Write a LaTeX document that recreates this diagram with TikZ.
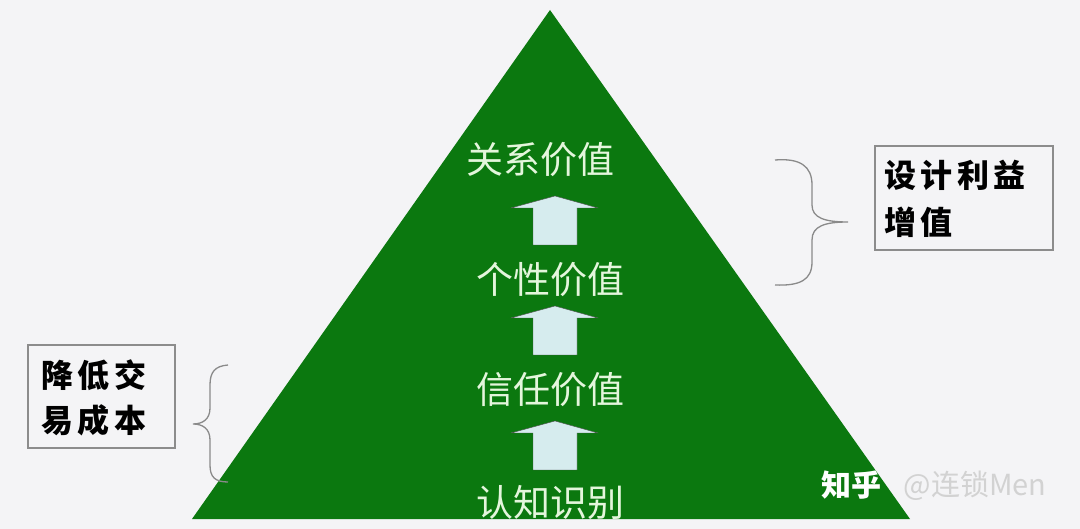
\documentclass[tikz,border=0pt]{standalone}
\usepackage{fontspec}
\newfontfamily\cjk{Noto Sans CJK SC}
\newfontfamily\boxfont[LetterSpace=14]{Noto Sans CJK SC}
\definecolor{bgc}{HTML}{F4F4F6}
\definecolor{pyrgreen}{HTML}{0B780F}
\definecolor{paletext}{HTML}{E4F6DC}
\definecolor{arrowfill}{HTML}{D6ECEE}
\definecolor{bracec}{HTML}{8A8A8A}
\tikzset{
  level/.style={font=\cjk\fontsize{37}{40}\selectfont, text=paletext, inner sep=0pt},
  labelbox/.style={draw=gray!90, line width=1.2pt, fill=bgc},
  boxtext/.style={font=\boxfont\bfseries\fontsize{32}{36}\selectfont, text=black, anchor=west, inner sep=0pt},
  bracestyle/.style={draw=bracec, line width=1.3pt},
  uparrow/.style={fill=arrowfill, draw=gray!60!black, line width=0.4pt},
}
\begin{document}
\begin{tikzpicture}[x=1pt,y=-1pt]
\useasboundingbox (0,0) rectangle (1080,529);
\fill[bgc] (0,0) rectangle (1080,529);
% pyramid
\fill[pyrgreen] (550,10) -- (910,519) -- (192,519) -- cycle;
% level texts
\node[level] (rel) at (540,160) {关系价值};
\node[level] (ind) at (550,280) {个性价值};
\node[level] (tru) at (550,390) {信任价值};
\node[level] (cog) at (550,502) {认知识别};
% arrows
\foreach \yb in {245,355,470}{
  \path[uparrow] (533,\yb) -- (533,\yb-37) -- (511,\yb-37) -- (555,\yb-49) -- (598,\yb-37) -- (577,\yb-37) -- (577,\yb) -- cycle;
}
% right box
\draw[labelbox] (875,146) rectangle (1053,250);
\node[boxtext] (r1) at (884,175) {设计利益};
\node[boxtext] (r2) at (884,222) {增值};
% left box
\draw[labelbox] (28,345) rectangle (175,448);
\node[boxtext] (l1) at (41,375) {降低交};
\node[boxtext] (l2) at (41,420) {易成本};
% right brace
\draw[bracestyle] (775,160) .. controls (800,158) and (812,166) .. (812,185) -- (812,205) .. controls (812,218) and (825,222) .. (848,222) .. controls (825,222) and (812,226) .. (812,240) -- (812,262) .. controls (812,280) and (800,286) .. (775,285);
% left brace
\draw[bracestyle] (228,365) .. controls (215,366) and (210,372) .. (210,385) -- (210,408) .. controls (210,419) and (203,424) .. (193,424) .. controls (203,424) and (210,429) .. (210,440) -- (210,465) .. controls (210,477) and (215,482) .. (228,482);
% watermark
\node[font=\cjk\bfseries\fontsize{30}{32}\selectfont, text=white, inner sep=0pt] (wm1) at (851,485) {知乎};
\node[font=\cjk\fontsize{29}{32}\selectfont, text=gray!35, inner sep=0pt] (wm2) at (975,486) {@连锁Men};
\end{tikzpicture}
\end{document}
